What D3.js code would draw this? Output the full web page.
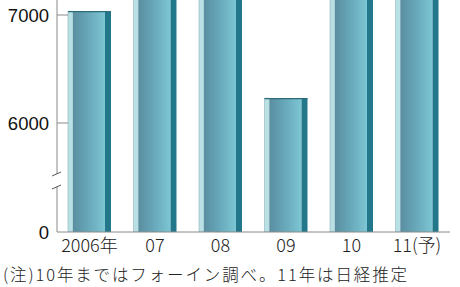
<!DOCTYPE html>
<html>
<head>
<meta charset="utf-8">
<script src="https://cdn.jsdelivr.net/npm/d3@7.9.0/dist/d3.min.js"></script>
<style>
  html, body { margin: 0; padding: 0; background: #fff; }
  svg { display: block; }
</style>
</head>
<body>
<div id="chart"></div>
<script>
// data (bars above 7000 run off the top of the picture)
const years = ["2006年", "07", "08", "09", "10", "11(予)"];
const values = [7035, 7600, 7500, 6230, 7700, 7800];
const tickValues = [0, 6000, 7000];

const width = 460, height = 287;

const svg = d3.select("#chart").append("svg")
  .attr("width", width)
  .attr("height", height);

const axisX = 57;
const plotRight = 450;

// broken scale: lower part squeezed below the break
const y = d3.scaleLinear()
  .domain([0, 5500, 7000])
  .range([232, 177, 15]);

const x = d3.scaleBand()
  .domain(years)
  .range([54.9, 451.6])
  .paddingInner(0.3435)
  .paddingOuter(0.2);

// gradient for the bar body
const defs = svg.append("defs");
const grad = defs.append("linearGradient").attr("id", "barGrad");
grad.append("stop").attr("offset", "0%").attr("stop-color", "#5a8ea0");
grad.append("stop").attr("offset", "45%").attr("stop-color", "#66a6b8");
grad.append("stop").attr("offset", "100%").attr("stop-color", "#7dc6d4");

defs.append("clipPath").attr("id", "plotClip")
  .append("rect").attr("x", 0).attr("y", 0).attr("width", width).attr("height", 232);

const bars = svg.append("g").attr("clip-path", "url(#plotClip)")
  .selectAll("g.bar")
  .data(years.map((d, i) => ({ year: d, value: values[i] })))
  .join("g")
    .attr("class", "bar")
    .attr("transform", d => `translate(${x(d.year)},0)`);

const bw = x.bandwidth();
const lightW = 5, darkW = 6;

// light left strip
bars.append("rect")
  .attr("x", 0)
  .attr("y", d => y(d.value))
  .attr("width", lightW)
  .attr("height", d => y(0) - y(d.value))
  .attr("fill", "#b8e0e5")
  .attr("stroke", "#8fb3b9")
  .attr("stroke-width", 0.6);

// body
bars.append("rect")
  .attr("x", lightW)
  .attr("y", d => y(d.value))
  .attr("width", bw - lightW - darkW)
  .attr("height", d => y(0) - y(d.value))
  .attr("fill", "url(#barGrad)");

// dark right strip
bars.append("rect")
  .attr("x", bw - darkW)
  .attr("y", d => y(d.value))
  .attr("width", darkW)
  .attr("height", d => y(0) - y(d.value))
  .attr("fill", "#22788a");

// top edge
bars.append("line")
  .attr("x1", 0)
  .attr("x2", bw)
  .attr("y1", d => y(d.value) + 0.5)
  .attr("y2", d => y(d.value) + 0.5)
  .attr("stroke", "#2e6b78")
  .attr("stroke-width", 1.2);

// y axis with a break
const axisColor = "#8a8a8a";
const breakTop = 174, breakBottom = 187;
svg.append("line")
  .attr("x1", axisX).attr("x2", axisX)
  .attr("y1", 0).attr("y2", breakTop)
  .attr("stroke", axisColor);
svg.append("line")
  .attr("x1", axisX).attr("x2", axisX)
  .attr("y1", breakBottom).attr("y2", y(0))
  .attr("stroke", axisColor);
[breakTop, breakBottom].forEach(by => {
  svg.append("line")
    .attr("x1", axisX - 5).attr("x2", axisX + 4)
    .attr("y1", by + 2).attr("y2", by - 2)
    .attr("stroke", "#555")
    .attr("stroke-width", 1);
});

// baseline
svg.append("line")
  .attr("x1", axisX).attr("x2", plotRight)
  .attr("y1", y(0)).attr("y2", y(0))
  .attr("stroke", axisColor);

// ticks and labels
const ticks = svg.append("g").selectAll("g")
  .data(tickValues)
  .join("g")
    .attr("transform", d => `translate(0,${y(d)})`);

ticks.filter(d => d !== 0).append("line")
  .attr("x1", axisX).attr("x2", axisX + 11)
  .attr("stroke", axisColor);

ticks.append("text")
  .attr("x", 49)
  .attr("dy", "0.36em")
  .attr("text-anchor", "end")
  .attr("font-family", "'Liberation Sans', Arial, sans-serif")
  .attr("font-size", 18.5)
  .attr("fill", "#111")
  .text(d => d);

// category labels
svg.append("g").selectAll("text")
  .data(years)
  .join("text")
    .attr("x", d => x(d) + bw / 2)
    .attr("y", 252)
    .attr("text-anchor", "middle")
    .attr("font-family", "'Noto Sans CJK JP', sans-serif")
    .attr("font-size", 18)
    .attr("font-weight", 300)
    .attr("fill", "#222")
    .text(d => d);

// footnote
svg.append("text")
  .attr("x", 3)
  .attr("y", 281)
  .attr("font-family", "'Noto Sans CJK JP', sans-serif")
  .attr("font-size", 16.5)
  .attr("font-weight", 300)
  .attr("fill", "#222")
  .attr("textLength", 404)
  .attr("lengthAdjust", "spacing")
  .text("(注)10年まではフォーイン調べ。11年は日経推定");
</script>
</body>
</html>
